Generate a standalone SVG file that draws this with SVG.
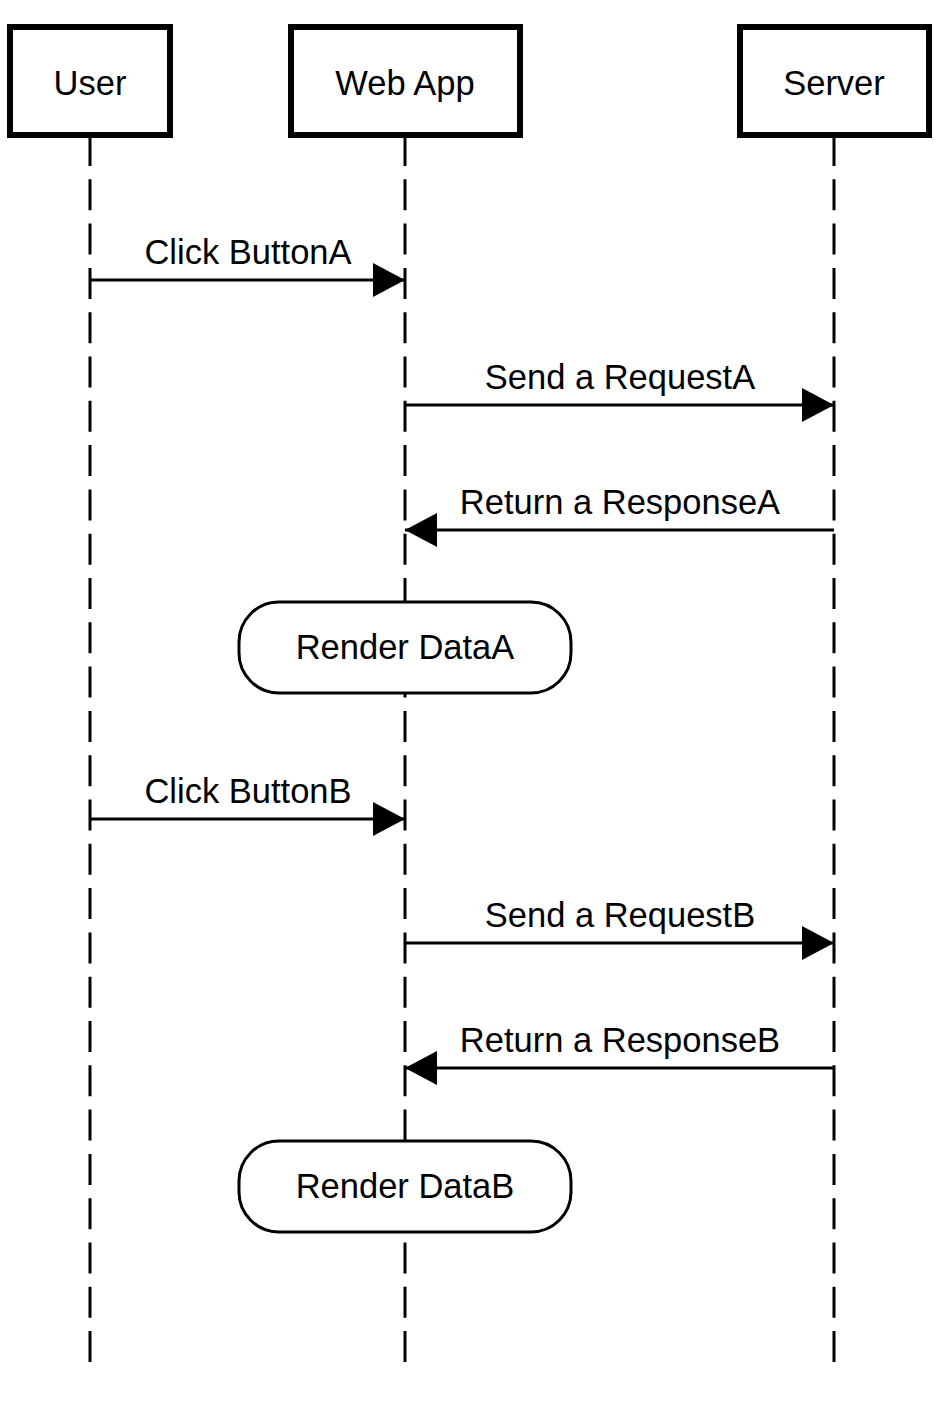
<svg xmlns="http://www.w3.org/2000/svg" width="942" height="1412" viewBox="0 0 942 1412">
<defs>
<style>
.actor{fill:#fff;stroke:#000;stroke-width:6}
.life{stroke:#000;stroke-width:3;stroke-dasharray:31 13.3;fill:none}
.msg{stroke:#000;stroke-width:3;fill:none;marker-end:url(#ah)}
.act{fill:#fff;stroke:#000;stroke-width:3}
text{font-family:"Liberation Sans",Arial,Helvetica,sans-serif;font-size:34.5px;fill:#000;text-anchor:middle}
</style>
<marker id="ah" markerUnits="userSpaceOnUse" markerWidth="34" markerHeight="36" refX="32" refY="17" orient="auto">
<path d="M0,0 L32,17 L0,34 z" fill="#000"/>
</marker>
</defs>
<rect width="942" height="1412" fill="#fff"/>
<g id="lifelines">
<line class="life" x1="90" y1="135" x2="90" y2="1363"/>
<line class="life" x1="405" y1="135" x2="405" y2="1363"/>
<line class="life" x1="834" y1="135" x2="834" y2="1363"/>
</g>
<g id="user"><rect class="actor" x="10" y="27" width="160" height="108"/><text x="90" y="95">User</text></g>
<g id="webapp"><rect class="actor" x="291" y="27" width="229" height="108"/><text x="405" y="95">Web App</text></g>
<g id="server"><rect class="actor" x="740" y="27" width="189" height="108"/><text x="834" y="95">Server</text></g>
<g id="connectors">
<line class="msg" x1="90" y1="280" x2="405" y2="280"/>
<line class="msg" x1="405" y1="405" x2="834" y2="405"/>
<line class="msg" x1="834" y1="530" x2="405" y2="530"/>
<line class="msg" x1="90" y1="819" x2="405" y2="819"/>
<line class="msg" x1="405" y1="943" x2="834" y2="943"/>
<line class="msg" x1="834" y1="1068" x2="405" y2="1068"/>
<text x="248" y="264">Click ButtonA</text>
<text x="620" y="389">Send a RequestA</text>
<text x="620" y="514">Return a ResponseA</text>
<text x="248" y="803">Click ButtonB</text>
<text x="620" y="927">Send a RequestB</text>
<text x="620" y="1052">Return a ResponseB</text>
</g>
<g id="renderA"><rect class="act" x="239" y="602" width="332" height="91" rx="40" ry="40"/><text x="405" y="659">Render DataA</text></g>
<g id="renderB"><rect class="act" x="239" y="1141" width="332" height="91" rx="40" ry="40"/><text x="405" y="1198">Render DataB</text></g>
</svg>
